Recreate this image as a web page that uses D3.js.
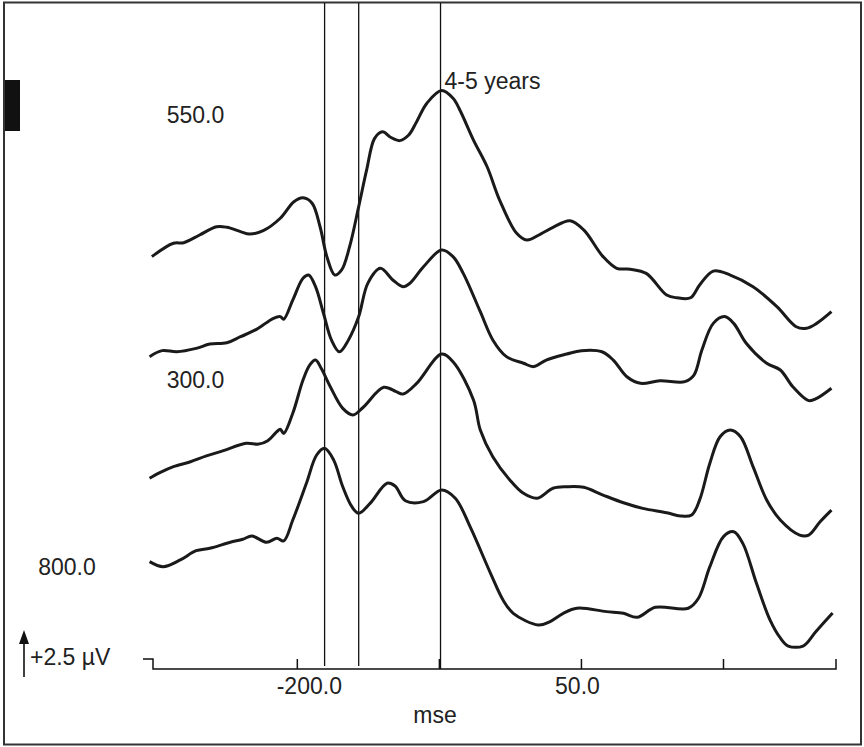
<!DOCTYPE html>
<html>
<head>
<meta charset="utf-8">
<script src="https://cdn.jsdelivr.net/npm/d3@7"></script>
<style>
  body { margin: 0; background: #fff; }
  svg text { font-family: "Liberation Sans", Arial, sans-serif; fill: #222; }
</style>
</head>
<body>
<div id="chart"></div>
<script>
/*****************************/
/*** DATA                  ***/
/*****************************/
//channels top to bottom, each trace is [msec, uV relative to its own row]
var channels = ['ch1', 'ch2', 'ch3', 'ch4'];

var trace1 = [[-328,0.18],[-309,0.89],[-300,0.92],[-286,1.33],[-271,1.77],[-262,1.74],[-250,1.51],[-242,1.38],[-230,1.56],[-215,2.22],[-203,3.10],[-195,3.31],[-187,3.02],[-180,1.77],[-174,0.18],[-167,-0.80],[-161,-0.53],[-154,0.71],[-146,2.84],[-139,4.79],[-132,6.47],[-125,6.82],[-118,6.53],[-110,6.35],[-102,6.65],[-95,7.36],[-86,8.34],[-73,9.01],[-63,8.60],[-57,7.98],[-45,6.38],[-33,4.96],[-22,3.19],[-7,1.42],[2,1.06],[14,1.38],[25,1.74],[40,2.09],[52,1.60],[69,0.18],[81,-0.44],[93,-0.49],[107,-0.71],[125,-1.86],[134,-2.01],[146,-2.01],[154,-1.33],[166,-0.59],[181,-0.80],[201,-1.42],[222,-2.48],[239,-3.55],[248,-3.63],[257,-3.37],[270,-2.75]];

var trace2 = [[-330,0.71],[-319,1.03],[-306,0.97],[-289,1.15],[-277,1.38],[-262,1.45],[-250,1.77],[-236,2.16],[-221,2.75],[-215,2.84],[-212,2.70],[-204,3.72],[-195,4.88],[-190,5.05],[-184,4.43],[-177,3.02],[-170,1.60],[-163,0.97],[-155,1.60],[-146,2.84],[-138,4.61],[-127,5.41],[-116,4.79],[-107,4.43],[-101,4.61],[-89,5.49],[-73,6.38],[-63,6.03],[-54,5.14],[-39,3.10],[-28,1.60],[-16,0.71],[-1,0.36],[8,0.18],[19,0.53],[37,0.85],[50,1.03],[68,0.97],[78,0.53],[90,-0.36],[102,-0.71],[119,-0.57],[141,-0.62],[149,-0.27],[156,1.06],[166,2.48],[176,2.84],[184,2.48],[195,1.42],[213,0.36],[225,0],[236,-0.89],[250,-1.63],[257,-1.51],[270,-0.97]];

var trace3 = [[-330,0.09],[-321,0.39],[-309,0.71],[-294,0.97],[-280,1.28],[-265,1.56],[-245,1.95],[-234,1.91],[-226,2.09],[-218,2.57],[-215,2.70],[-212,2.48],[-204,3.55],[-195,5.32],[-189,6.12],[-184,6.38],[-179,5.94],[-171,4.96],[-160,3.81],[-151,3.46],[-142,3.87],[-124,4.93],[-113,4.70],[-107,4.57],[-95,5.14],[-73,6.70],[-63,6.29],[-45,4.26],[-39,2.66],[-28,1.24],[-13,0],[-1,-0.71],[11,-0.97],[25,-0.44],[37,-0.36],[52,-0.39],[69,-0.80],[87,-1.21],[104,-1.51],[125,-1.74],[137,-1.91],[147,-1.86],[154,-1.06],[163,0.89],[172,2.30],[181,2.66],[190,2.30],[201,0.71],[213,-1.06],[225,-2.13],[242,-2.93],[250,-2.93],[260,-2.22],[270,-1.60]];

var trace4 = [[-330,1.51],[-318,1.24],[-303,1.60],[-289,2.09],[-277,2.22],[-259,2.54],[-248,2.70],[-240,2.87],[-227,2.54],[-218,2.75],[-212,2.61],[-204,3.72],[-192,5.68],[-183,7.18],[-176,7.54],[-168,6.91],[-160,5.49],[-152,4.43],[-146,4.08],[-136,4.61],[-121,5.68],[-114,5.53],[-105,4.75],[-89,4.70],[-73,5.32],[-61,4.88],[-48,3.37],[-30,0.89],[-19,-0.53],[-10,-1.24],[12,-1.86],[22,-1.69],[34,-1.24],[46,-0.97],[72,-1.15],[87,-1.24],[99,-1.45],[115,-0.92],[144,-0.97],[153,-0.44],[163,1.24],[175,2.84],[184,3.10],[192,2.48],[204,0.36],[216,-1.60],[225,-2.55],[232,-2.98],[245,-2.98],[256,-2.23],[271,-1.22]];

var traces = [trace1, trace2, trace3, trace4];

//free text labels next to the traces
var traceLabels = [
  {text: '550.0', ms: -315, row: 'ch1', uv: 7.3},
  {text: '300.0', ms: -315, row: 'ch3', uv: 4.9},
  {text: '800.0', ms: -428, row: 'ch4', uv: 0.8}
];
var groupLabel = '4-5 years';

//axis
var xDomain = [-327, 274];
var tickValues = [-200, -75, 50, 175];
var tickLabels = {'-200': '-200.0', '50': '50.0'};
var markerTimes = [-176, -146, -74];
var xTitle = 'mse';
var calibLabel = '+2.5 \u00b5V';
var calibUv = 2.5;

/*****************************/
/*** DRAW                  ***/
/*****************************/
var width = 864, height = 747;
var axisY = 669;
var pxPerUv = 18.8;

var svg = d3.select('#chart').append('svg')
  .attr('width', width)
  .attr('height', height);

//frame
svg.append('rect')
  .attr('x', 4).attr('y', 2.5)
  .attr('width', 857).attr('height', 742)
  .attr('fill', 'none')
  .attr('stroke', '#333')
  .attr('stroke-width', 2);

svg.append('rect')
  .attr('x', 5).attr('y', 80)
  .attr('width', 15).attr('height', 51)
  .attr('fill', '#111');

//scales
var x = d3.scaleLinear().domain(xDomain).range([153, 836]);
var rowY = d3.scalePoint().domain(channels).range([260, 590]);
function yFor(row, uv) { return rowY(row) - uv * pxPerUv; }

//marker lines
svg.selectAll('.marker')
  .data(markerTimes)
  .enter().append('line')
  .attr('class', 'marker')
  .attr('x1', function(d) { return x(d); })
  .attr('x2', function(d) { return x(d); })
  .attr('y1', 3)
  .attr('y2', function(d, i) { return i == markerTimes.length - 1 ? axisY : axisY - 3; })
  .attr('stroke', '#111')
  .attr('stroke-width', 1.3);

//traces
var line = d3.line()
  .x(function(d) { return x(d[0]); })
  .curve(d3.curveCatmullRom.alpha(0.5));

traces.forEach(function(tr, i) {
  line.y(function(d) { return yFor(channels[i], d[1]); });
  svg.append('path')
    .datum(tr)
    .attr('d', line)
    .attr('fill', 'none')
    .attr('stroke', '#1a1a1a')
    .attr('stroke-width', 3)
    .attr('stroke-linejoin', 'round');
});

//labels
svg.selectAll('.trace-label')
  .data(traceLabels)
  .enter().append('text')
  .attr('class', 'trace-label')
  .attr('x', function(d) { return x(d.ms); })
  .attr('y', function(d) { return yFor(d.row, d.uv); })
  .style('font-size', '23px')
  .text(function(d) { return d.text; });

svg.append('text')
  .attr('x', x(markerTimes[2]) + 4)
  .attr('y', 89)
  .style('font-size', '23px')
  .text(groupLabel);

//x axis
var x0 = x.range()[0], x1 = x.range()[1];
svg.append('path')
  .attr('d', 'M' + (x0 - 10) + ',' + (axisY - 10) + 'H' + x0 + 'V' + axisY + 'H' + x1 + 'V' + (axisY - 10))
  .attr('fill', 'none')
  .attr('stroke', '#111')
  .attr('stroke-width', 1.5);

svg.selectAll('.tick')
  .data(tickValues)
  .enter().append('line')
  .attr('class', 'tick')
  .attr('x1', function(d) { return x(d); })
  .attr('x2', function(d) { return x(d); })
  .attr('y1', axisY)
  .attr('y2', axisY - 10)
  .attr('stroke', '#111')
  .attr('stroke-width', 1.5);

//label offsets as printed in the original
var labelShift = {'-200': 12, '50': -4};
svg.selectAll('.tick-label')
  .data(tickValues.filter(function(d) { return tickLabels[d]; }))
  .enter().append('text')
  .attr('class', 'tick-label')
  .attr('x', function(d) { return x(d) + labelShift[d]; })
  .attr('y', 694)
  .attr('text-anchor', 'middle')
  .style('font-size', '23px')
  .text(function(d) { return tickLabels[d]; });

svg.append('text')
  .attr('x', 435)
  .attr('y', 723)
  .attr('text-anchor', 'middle')
  .style('font-size', '23px')
  .text(xTitle);

//calibration arrow
var calBottom = 677;
var calTop = calBottom - calibUv * pxPerUv;
svg.append('line')
  .attr('x1', 24).attr('x2', 24)
  .attr('y1', calBottom).attr('y2', calTop + 10)
  .attr('stroke', '#111')
  .attr('stroke-width', 1.6);
svg.append('path')
  .attr('d', 'M19,' + (calTop + 14) + 'L24,' + calTop + 'L29,' + (calTop + 14) + 'Z')
  .attr('fill', '#111');
svg.append('text')
  .attr('x', 30)
  .attr('y', 665)
  .style('font-size', '23px')
  .text(calibLabel);
</script>
</body>
</html>
